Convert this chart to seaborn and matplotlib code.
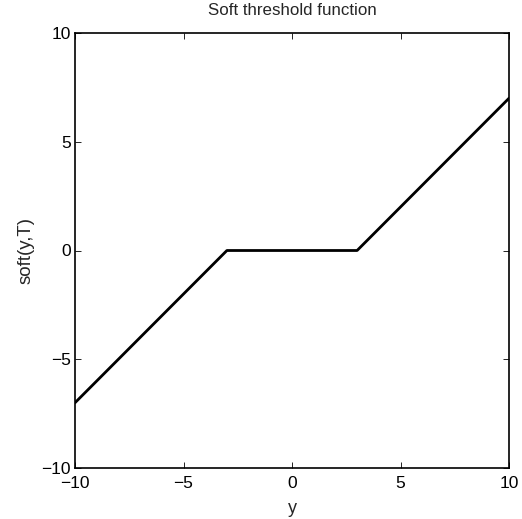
import numpy as np
import pandas as pd
import matplotlib
matplotlib.use('Agg')
import matplotlib.pyplot as plt
import seaborn as sns

# soft threshold, T = 3
y_vals = [-10, -3, 3, 10]
soft_vals = [-7, 0, 0, 7]
ticks = [-10, -5, 0, 5, 10]

sns.set_style('white')
plt.rcParams['font.family'] = ['Liberation Sans', 'DejaVu Sans']
plt.rcParams['axes.unicode_minus'] = True

df = pd.DataFrame({'y': y_vals, 'soft': soft_vals})

fig = plt.figure(figsize=(5.22, 5.19), dpi=100)
ax = fig.add_axes([75 / 522, 51 / 519, 434 / 522, 435 / 519])
sns.lineplot(data=df, x='y', y='soft', color='black', linewidth=2, ax=ax, sort=False)

ax.set_xlim(-10, 10)
ax.set_ylim(-10, 10)
ax.set_xticks(ticks)
ax.set_yticks(ticks)
ax.tick_params(direction='in', length=4, width=0.6, labelsize=12.5, top=True, right=True,
               bottom=True, left=True, colors='black')
ax.tick_params(axis='x', pad=6)
ax.tick_params(axis='y', pad=3)
for s in ax.spines.values():
    s.set_visible(True)
    s.set_color('black')
    s.set_linewidth(1.2)
ax.set_xlabel('y', fontsize=13, labelpad=6)
ax.set_ylabel('soft(y,T)', fontsize=13.5, labelpad=5)
ax.set_title('Soft threshold function', fontsize=12.2, pad=13)

fig.savefig('out.png', dpi=100)
